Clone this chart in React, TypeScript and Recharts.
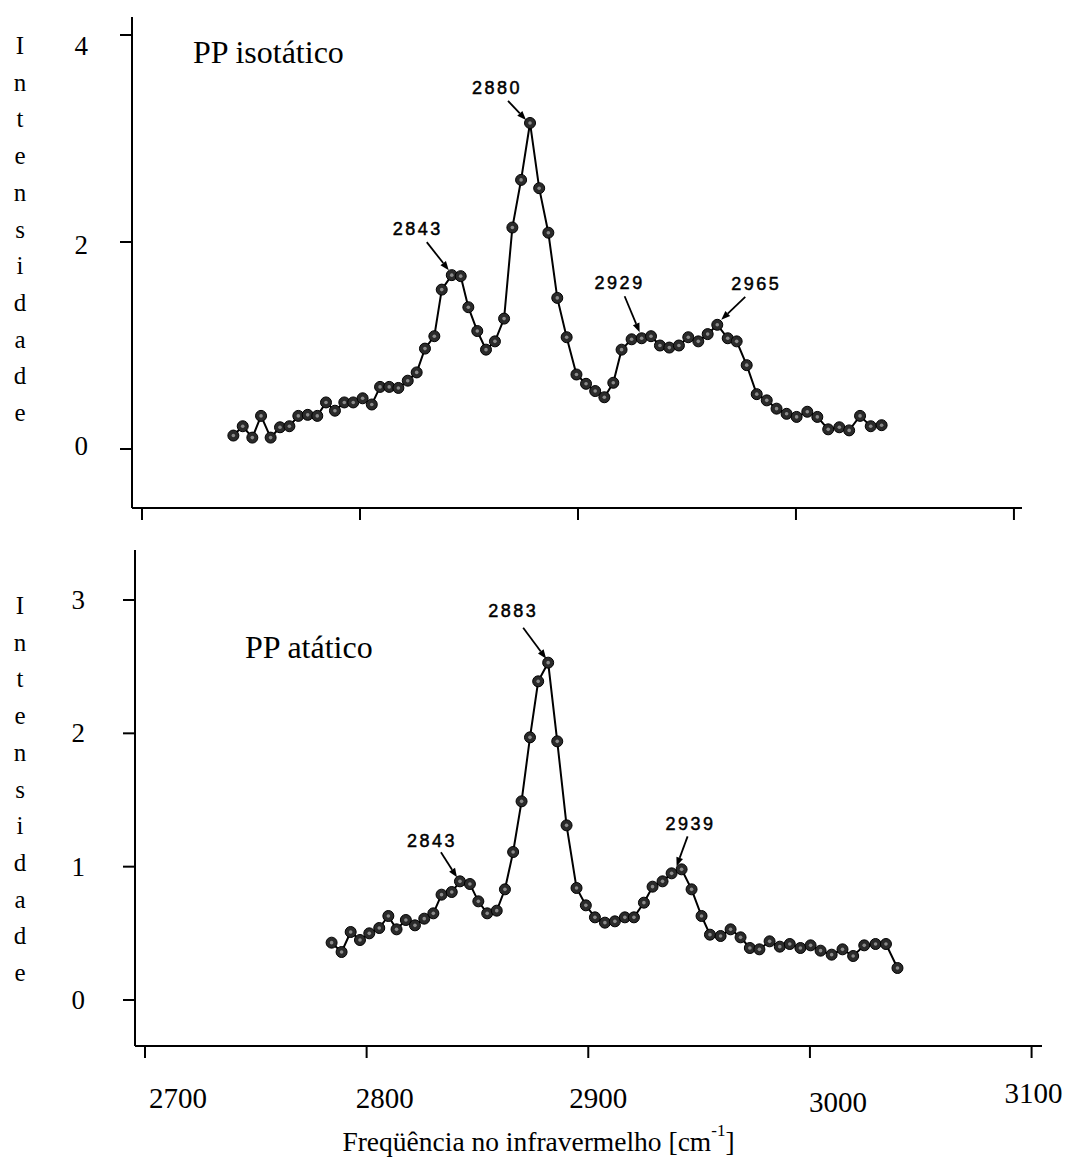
import React from 'react';
import { LineChart, Line, XAxis, YAxis, ReferenceDot } from 'recharts';

// PP isotático (upper panel)
const isoFreq = [
  2741.9, 2746.2, 2750.6, 2754.6, 2759.0, 2763.3, 2767.6, 2771.7, 2776.0, 2780.4,
  2784.4, 2788.5, 2792.8, 2796.9, 2801.2, 2805.4, 2809.2, 2813.4, 2817.6, 2821.9,
  2826.0, 2829.8, 2834.1, 2837.5, 2842.1, 2846.2, 2849.7, 2853.8, 2857.8, 2861.9,
  2866.1, 2869.9, 2873.9, 2878.0, 2882.2, 2886.4, 2890.5, 2894.8, 2899.3, 2903.7,
  2907.9, 2912.1, 2916.2, 2920.0, 2924.6, 2929.2, 2933.5, 2937.6, 2941.9, 2946.3,
  2950.6, 2955.2, 2959.5, 2963.9, 2968.7, 2972.8, 2977.4, 2982.0, 2986.6, 2991.1,
  2995.7, 3000.3, 3005.2, 3009.8, 3014.8, 3019.9, 3024.4, 3029.4, 3034.3, 3039.3,
];
const isoInt = [
  0.13, 0.22, 0.11, 0.32, 0.11, 0.21, 0.22, 0.32, 0.33, 0.32,
  0.45, 0.37, 0.45, 0.45, 0.49, 0.43, 0.60, 0.60, 0.59, 0.66,
  0.74, 0.97, 1.09, 1.54, 1.68, 1.67, 1.37, 1.14, 0.96, 1.04,
  1.26, 2.14, 2.60, 3.15, 2.52, 2.09, 1.46, 1.08, 0.72, 0.63,
  0.56, 0.50, 0.64, 0.96, 1.06, 1.07, 1.09, 1.00, 0.98, 1.00,
  1.08, 1.04, 1.11, 1.20, 1.07, 1.04, 0.81, 0.53, 0.47, 0.39,
  0.34, 0.31, 0.36, 0.31, 0.19, 0.21, 0.18, 0.32, 0.22, 0.23,
];
const isoPeakLabels = ['2843', '2880', '2929', '2965'];
const isoPeakIndex = [24, 33, 45, 53];

// PP atático (lower panel)
const ataFreq = [
  2784.2, 2788.7, 2792.8, 2797.0, 2801.2, 2805.7, 2809.8, 2813.5, 2817.7, 2821.8,
  2826.0, 2830.1, 2833.8, 2838.4, 2842.1, 2846.6, 2850.4, 2854.4, 2858.7, 2862.4,
  2866.1, 2869.9, 2873.7, 2877.4, 2881.9, 2886.0, 2890.2, 2894.7, 2898.9, 2903.0,
  2907.5, 2912.0, 2916.5, 2920.6, 2925.1, 2929.0, 2933.5, 2937.6, 2942.1, 2946.6,
  2951.1, 2954.9, 2959.7, 2964.2, 2968.7, 2972.9, 2977.2, 2981.8, 2986.4, 2990.9,
  2995.7, 3000.3, 3004.8, 3009.8, 3014.7, 3019.5, 3024.5, 3029.6, 3034.3, 3039.5,
];
const ataInt = [
  0.43, 0.36, 0.51, 0.45, 0.50, 0.54, 0.63, 0.53, 0.60, 0.56,
  0.61, 0.65, 0.79, 0.81, 0.89, 0.87, 0.74, 0.65, 0.67, 0.83,
  1.11, 1.49, 1.97, 2.39, 2.53, 1.94, 1.31, 0.84, 0.71, 0.62,
  0.58, 0.59, 0.62, 0.62, 0.73, 0.85, 0.89, 0.95, 0.98, 0.83,
  0.63, 0.49, 0.48, 0.53, 0.47, 0.39, 0.38, 0.44, 0.40, 0.42,
  0.39, 0.41, 0.37, 0.34, 0.38, 0.33, 0.41, 0.42, 0.42, 0.24,
];
const ataPeakLabels = ['2843', '2883', '2939'];
const ataPeakIndex = [14, 24, 38];

const xTicks = [2700, 2800, 2900, 3000, 3100];
const isoYTicks = [0, 2, 4];
const ataYTicks = [0, 1, 2, 3];

// where each peak note sits relative to its point (px): text centre, arrow tail, arrow tip
const noteLayout: Record<string, number[][]> = {
  'iso2843': [[-34, -46], [-25, -33], [-3, -5]],
  'iso2880': [[-33, -35], [-22, -22], [-4, -3]],
  'iso2929': [[-22, -55], [-17, -42], [-2, -6]],
  'iso2965': [[39, -41], [28, -28], [4, -5]],
  'ata2843': [[-28, -40], [-19, -29], [-3, -4]],
  'ata2883': [[-35, -52], [-25, -35], [-2, -4]],
  'ata2939': [[9, -45], [6, -33], [-5, -3]],
};
// the scanned tick labels sit a bit off their ticks
const tickShiftX = [33, 18, 10, 28, 2];
const tickShiftY = [38, 38, 38, 42, 33];
const isoLabelShiftY: Record<number, number> = { 0: -3, 2: 3, 4: 11 };

const serif = '"Liberation Serif", "Times New Roman", serif';
const sans = '"Liberation Sans", Arial, sans-serif';

const isoData = isoFreq.map((x, i) => ({ x, y: isoInt[i] }));
const ataData = ataFreq.map((x, i) => ({ x, y: ataInt[i] }));

const Dot = (props: any) => {
  const { cx, cy, index } = props;
  if (cx == null || cy == null) return <g key={index} />;
  return (
    <g key={index}>
      <circle cx={cx} cy={cy} r={5.5} fill="#2a2a2a" stroke="#000" strokeWidth={1} />
      <circle cx={cx} cy={cy} r={1.8} fill="#8a8a8a" />
    </g>
  );
};

const noteShape = (label: string, lay: number[][]) => (p: any) => {
  const { cx, cy } = p;
  const x0 = cx + lay[1][0], y0 = cy + lay[1][1];
  const x1 = cx + lay[2][0], y1 = cy + lay[2][1];
  const ang = Math.atan2(y1 - y0, x1 - x0);
  const bx = x1 - 9 * Math.cos(ang), by = y1 - 9 * Math.sin(ang);
  const px = -Math.sin(ang) * 3.5, py = Math.cos(ang) * 3.5;
  return (
    <g>
      <line x1={x0} y1={y0} x2={bx} y2={by} stroke="#000" strokeWidth={1.8} />
      <polygon points={`${x1},${y1} ${bx + px},${by + py} ${bx - px},${by - py}`} fill="#000" />
      <text x={cx + lay[0][0]} y={cy + lay[0][1]} textAnchor="middle" dominantBaseline="central"
        fontFamily={sans} fontSize={18} letterSpacing={2.5} fill="#000" stroke="#000" strokeWidth={0.5}>{label}</text>
    </g>
  );
};

const EmptyTick = () => <g />;

const makeYTick = (shift: Record<number, number>) => (p: any) => (
  <text x={p.x} y={p.y + (shift[p.payload.value] || 0)} textAnchor="end" dominantBaseline="central"
    fontFamily={serif} fontSize={27} fill="#000">
    {p.payload.value}
  </text>
);

const XTick = (p: any) => {
  const i = xTicks.indexOf(p.payload.value);
  return (
    <text x={p.x + tickShiftX[i]} y={p.y + tickShiftY[i]} textAnchor="middle" dominantBaseline="central"
      fontFamily={serif} fontSize={29} fill="#000">
      {p.payload.value}
    </text>
  );
};

const stackedTitle = (offset: number) => (p: any) => {
  const vb = p.viewBox;
  return (
    <text x={20} y={vb.y + offset} textAnchor="middle" dominantBaseline="central" fontFamily={serif} fontSize={25} fill="#000">
      {'Intensidade'.split('').map((c, i) => (
        <tspan key={i} x={20} y={vb.y + offset + i * 36.7}>{c}</tspan>
      ))}
    </text>
  );
};

const XTitle = (p: any) => {
  const vb = p.viewBox;
  return (
    <text x={vb.x + vb.width / 2 - 50} y={vb.y + 95} textAnchor="middle" dominantBaseline="central"
      fontFamily={serif} fontSize={27.5} fill="#000">
      Freqüência no infravermelho [cm
      <tspan fontSize={17} dy={-11}>-1</tspan>
      <tspan dy={11}>]</tspan>
    </text>
  );
};

const axisLine = { stroke: '#000', strokeWidth: 2 };
const tickLine = { stroke: '#000', strokeWidth: 2 };

export default function App() {
  return (
    <div style={{ position: 'absolute', left: 0, top: 0, width: 1070, height: 1159, background: '#fff' }}>
      <div style={{ position: 'absolute', left: 0, top: 0 }}>
        <LineChart width={1070} height={540} data={isoData} margin={{ top: 17, right: 48, bottom: 0, left: 0 }}>
          <XAxis dataKey="x" type="number" domain={[2695.4, 3103.7]} ticks={xTicks} allowDataOverflow
            axisLine={axisLine} tickLine={tickLine} tickSize={12} tick={EmptyTick} height={32} />
          <YAxis type="number" domain={[-0.57, 4.174]} ticks={isoYTicks} allowDataOverflow width={132}
            axisLine={axisLine} tickLine={tickLine} tickSize={12} tickMargin={32} tick={makeYTick(isoLabelShiftY)}
            label={{ content: stackedTitle(28) }} />
          <Line type="linear" dataKey="y" stroke="#000" strokeWidth={2} dot={Dot} isAnimationActive={false} />
          {isoPeakLabels.map((lab, k) => (
            <ReferenceDot key={lab} x={isoFreq[isoPeakIndex[k]]} y={isoInt[isoPeakIndex[k]]} r={0}
              shape={noteShape(lab, noteLayout['iso' + lab])} />
          ))}
        </LineChart>
      </div>
      <div style={{ position: 'absolute', left: 0, top: 530 }}>
        <LineChart width={1070} height={629} data={ataData} margin={{ top: 20, right: 28, bottom: 0, left: 0 }}>
          <XAxis dataKey="x" type="number" domain={[2695.5, 3104.7]} ticks={xTicks} allowDataOverflow
            axisLine={axisLine} tickLine={tickLine} tickSize={12} tick={XTick} height={113}
            label={{ content: XTitle }} />
          <YAxis type="number" domain={[-0.345, 3.375]} ticks={ataYTicks} allowDataOverflow width={135}
            axisLine={axisLine} tickLine={tickLine} tickSize={12} tickMargin={38} tick={makeYTick({})}
            label={{ content: stackedTitle(55) }} />
          <Line type="linear" dataKey="y" stroke="#000" strokeWidth={2} dot={Dot} isAnimationActive={false} />
          {ataPeakLabels.map((lab, k) => (
            <ReferenceDot key={lab} x={ataFreq[ataPeakIndex[k]]} y={ataInt[ataPeakIndex[k]]} r={0}
              shape={noteShape(lab, noteLayout['ata' + lab])} />
          ))}
        </LineChart>
      </div>
      <div style={{ position: 'absolute', left: 193, top: 32, fontFamily: serif, fontSize: 32, lineHeight: '40px', color: '#000' }}>
        PP isotático
      </div>
      <div style={{ position: 'absolute', left: 245, top: 627, fontFamily: serif, fontSize: 32, lineHeight: '40px', color: '#000' }}>
        PP atático
      </div>
    </div>
  );
}
